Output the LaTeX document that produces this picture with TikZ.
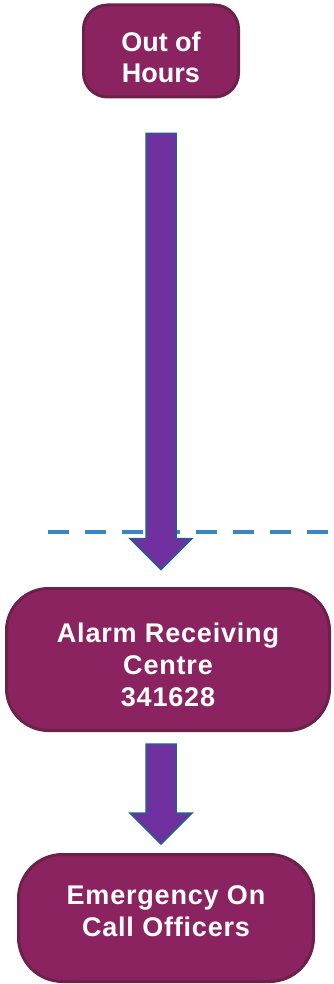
\documentclass[tikz,border=0pt]{standalone}
\usepackage{fontspec}
\setmainfont{Liberation Sans}
\usetikzlibrary{calc}
\definecolor{boxplum}{HTML}{8C2361}
\definecolor{boxedge}{HTML}{6C2149}
\definecolor{arrowpurple}{HTML}{7030A0}
\definecolor{arrowedge}{HTML}{245E8F}
\definecolor{lineblue}{HTML}{3A86C3}

% block arrow from #1 (top of shaft) down to #2 (tip)
\newcommand{\blockarrow}[2]{%
  \draw[fatarrow] ($(#1)+(-15,0)$) -- ($(#1 |- #2)+(-15,31)$) -- ($(#1 |- #2)+(-31,31)$)
    -- (#1 |- #2) -- ($(#1 |- #2)+(31,31)$) -- ($(#1 |- #2)+(15,31)$) -- ($(#1)+(15,0)$) -- cycle;}

\begin{document}
\begin{tikzpicture}[x=1pt,y=1pt,
  stepbox/.style={draw=boxedge, line width=3pt, fill=boxplum, inner sep=0pt},
  steptext/.style={text=white, font=\bfseries\fontsize{27}{32}\selectfont, align=center, inner sep=0pt},
  widetext/.style={steptext, font=\bfseries\fontsize{27}{32}\selectfont\addfontfeature{LetterSpace=3}},
  fatarrow/.style={draw=arrowedge, line width=1.5pt, fill=arrowpurple, line join=miter}]
  \useasboundingbox (0,0) rectangle (333,-984);

  \node[stepbox, rounded corners=24pt, minimum width=155pt, minimum height=92pt,
    label={[steptext, yshift=-6pt, font=\bfseries\fontsize{27}{31}\selectfont]center:Out of\\Hours}]
    (ooh) at (161,-51) {};
  \node[stepbox, rounded corners=42pt, minimum width=323pt, minimum height=142pt,
    label={[widetext, yshift=-5pt]center:Alarm Receiving\\Centre\\341628}]
    (arc) at (168,-659.5) {};
  \node[stepbox, rounded corners=44pt, minimum width=295pt, minimum height=127pt,
    label={[widetext, yshift=7pt]center:Emergency On\\Call Officers}]
    (eoc) at (166,-918) {};

  % dashed divider
  \draw[lineblue, line width=4pt, dash pattern=on 21pt off 16pt] (48,-532) -- (333,-532);

  \coordinate (a1s) at ($(ooh.south)+(0,-35)$);
  \coordinate (a1e) at ($(arc.north)+(0,17.5)$);
  \coordinate (a2s) at ($(arc.south)+(-7,-12)$);
  \coordinate (a2e) at ($(eoc.north)+(0,9)$);
  \blockarrow{a1s}{a1e}
  \blockarrow{a2s}{a2e}
\end{tikzpicture}
\end{document}
